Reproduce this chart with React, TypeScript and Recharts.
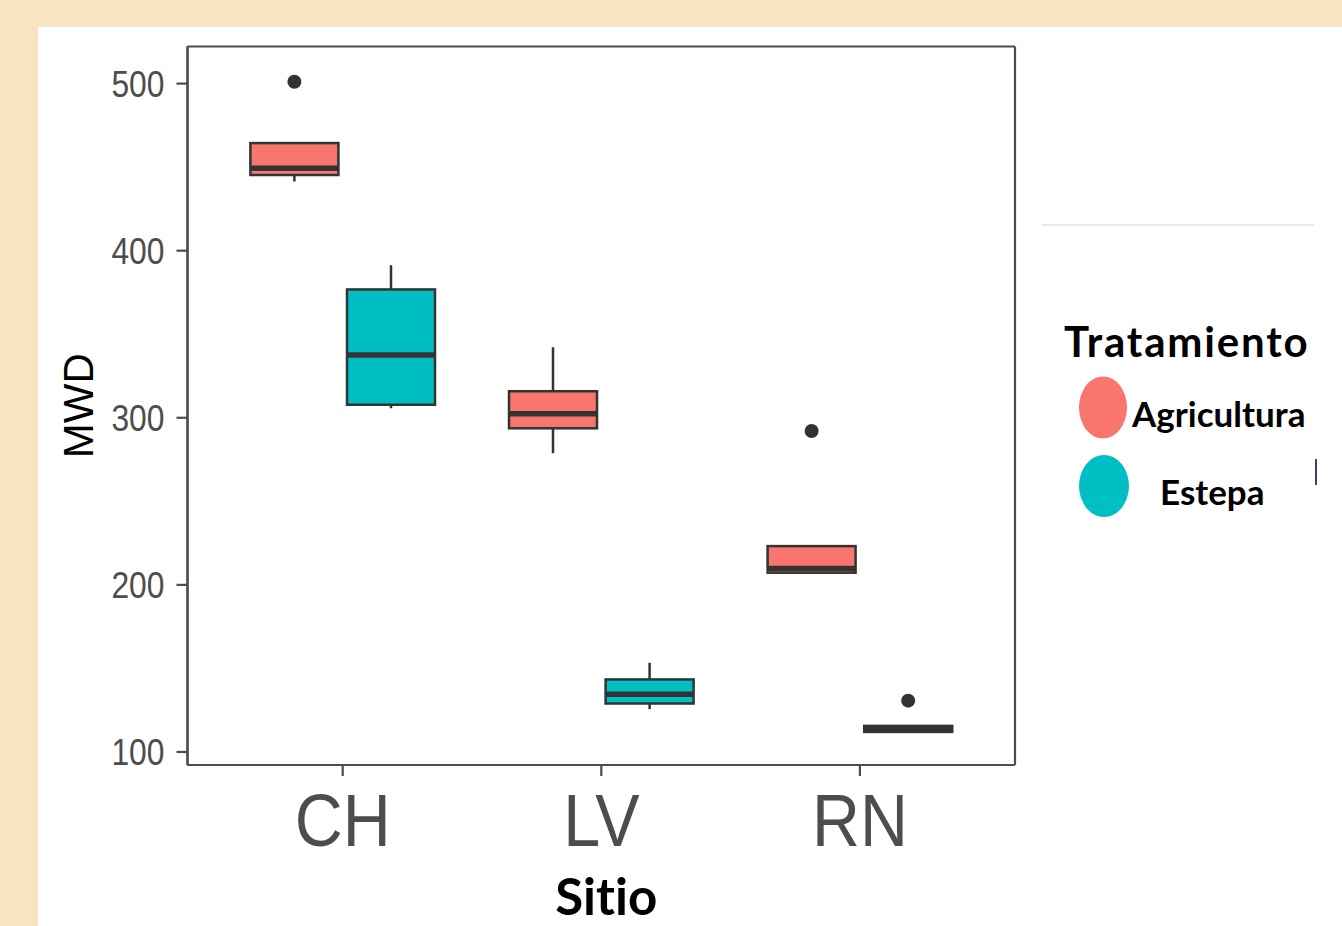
import React from 'react';
import { ComposedChart, Bar, XAxis, YAxis, Legend, Label, CartesianGrid } from 'recharts';

// ---- data ----
const sites = ['CH', 'LV', 'RN'];
const seriesNames = ['Agricultura', 'Estepa'];
const seriesColors = ['#F8766D', '#00BFC4'];

const agriLow = [441.4, 278.8, 207.3];
const agriQ1 = [445.3, 293.7, 207.3];
const agriMedian = [449.3, 302.4, 209.8];
const agriQ3 = [464.4, 315.9, 223.2];
const agriHigh = [464.4, 342.2, 223.2];
const agriOutliers = [[501.1], [], [292.1]];

const estepaLow = [305.7, 125.6, 112.0];
const estepaQ1 = [307.8, 129.0, 112.0];
const estepaMedian = [337.5, 134.6, 113.8];
const estepaQ3 = [376.8, 143.4, 115.6];
const estepaHigh = [391.3, 153.4, 115.6];
const estepaOutliers = [[], [], [130.7]];

const yTicks = [100, 200, 300, 400, 500];
const yDomain = [92.2, 522.2];

type Stats = { lo: number; q1: number; med: number; q3: number; hi: number; out: number[] };

const makeStats = (i: number, lo: number[], q1: number[], med: number[], q3: number[], hi: number[], out: number[][]): Stats => ({
  lo: lo[i], q1: q1[i], med: med[i], q3: q3[i], hi: hi[i], out: out[i],
});

const data = sites.map((site, i) => ({
  site,
  agri: makeStats(i, agriLow, agriQ1, agriMedian, agriQ3, agriHigh, agriOutliers),
  estepa: makeStats(i, estepaLow, estepaQ1, estepaMedian, estepaQ3, estepaHigh, estepaOutliers),
}));

const rangeOf = (s: Stats): [number, number] => [
  Math.min(s.lo, ...s.out),
  Math.max(s.hi, ...s.out),
];

const STROKE = '#333333';
const AXIS = '#4d4d4d';

const makeBoxShape = (key: 'agri' | 'estepa', fill: string) => (props: any) => {
  const { x, y, width, height, payload } = props;
  const s: Stats = payload[key];
  const [vmin, vmax] = rangeOf(s);
  // linear map inside the bar that the y scale produced (vmax -> y, vmin -> y+height)
  const py = (v: number) => y + ((vmax - v) / (vmax - vmin)) * height;
  const cx = x + width / 2;
  return (
    <g>
      {s.hi > s.q3 && <line x1={cx} x2={cx} y1={py(s.hi)} y2={py(s.q3)} stroke={STROKE} strokeWidth={2.5} />}
      {s.lo < s.q1 && <line x1={cx} x2={cx} y1={py(s.q1)} y2={py(s.lo)} stroke={STROKE} strokeWidth={2.5} />}
      <rect x={x} y={py(s.q3)} width={width} height={py(s.q1) - py(s.q3)} fill={fill} stroke={STROKE} strokeWidth={2.5} />
      <line x1={x} x2={x + width} y1={py(s.med)} y2={py(s.med)} stroke={STROKE} strokeWidth={5.5} />
      {s.out.map((o, k) => (
        <circle key={k} cx={cx} cy={py(o)} r={7} fill={STROKE} />
      ))}
    </g>
  );
};

const YTick = (props: any) => {
  const { x, y, payload } = props;
  return (
    <g transform={`translate(${x},${y}) scale(0.86,1)`}>
      <text x={0} y={0} dy={13} textAnchor="end" fontSize={37} fill="#4d4d4d" fontFamily="'Liberation Sans', Arial, sans-serif">
        {payload.value}
      </text>
    </g>
  );
};

const XTick = (props: any) => {
  const { x, y, payload } = props;
  return (
    <g transform={`translate(${x},${y}) scale(0.885,1)`}>
      <text x={0} y={0} dy={68} textAnchor="middle" fontSize={75} fill="#4d4d4d" fontFamily="'Liberation Sans', Arial, sans-serif">
        {payload.value}
      </text>
    </g>
  );
};

const LegendContent = (props: any) => {
  const payload = props.payload || [];
  const items = seriesNames.map((n, i) => {
    const p = payload.find((e: any) => e.value === n);
    return { name: n, color: (p && p.color) || seriesColors[i] };
  });
  return (
    <svg width={300} height={240} style={{ display: 'block' }}>
      <text x={24} y={47} fontSize={42} fontWeight={700} fill="#000" fontFamily="Lato, sans-serif" letterSpacing={1.8}>
        Tratamiento
      </text>
      <ellipse cx={63} cy={97.5} rx={24} ry={31} fill={items[0].color} />
      <text x={92} y={117} fontSize={35} fontWeight={700} fill="#000" fontFamily="Lato, sans-serif">
        {items[0].name}
      </text>
      <ellipse cx={64} cy={176} rx={25} ry={31} fill={items[1].color} />
      <text x={120} y={195} fontSize={35} fontWeight={700} fill="#000" fontFamily="Lato, sans-serif">
        {items[1].name}
      </text>
      <line x1={276} x2={276} y1={149} y2={175} stroke="#3a3a9a" strokeWidth={2} />
    </svg>
  );
};

export default function App() {
  return (
    <div style={{ position: 'fixed', left: 0, top: 0, width: 1342, height: 926, background: '#f6e4c3', overflow: 'hidden' }}>
      <div style={{ position: 'absolute', left: 38, top: 27, right: 0, bottom: 0, background: '#ffffff' }} />
      <div style={{ position: 'absolute', left: 1042, top: 224, width: 272, height: 2, background: '#e9e9e9' }} />
      <div style={{ position: 'absolute', left: 0, top: 0 }}>
        <ComposedChart
          width={1342}
          height={926}
          data={data}
          margin={{ top: 46.5, right: 327, bottom: 0, left: 0 }}
          barSize={88}
          barGap={8.6}
        >
          <CartesianGrid
            stroke={AXIS}
            strokeWidth={2.2}
            fill="none"
            horizontalCoordinatesGenerator={(p: any) => {
              const o = p.offset || { top: 46.5, height: 718.5 };
              return [o.top, o.top + o.height];
            }}
            verticalCoordinatesGenerator={(p: any) => {
              const o = p.offset || { left: 187.5, width: 827.5 };
              return [o.left, o.left + o.width];
            }}
          />
          <XAxis
            dataKey="site"
            type="category"
            height={161}
            padding={{ left: 25.9, right: 25.8 }}
            axisLine={{ stroke: AXIS, strokeWidth: 2.2 }}
            tickLine={{ stroke: AXIS, strokeWidth: 2.2 }}
            tickSize={11}
            tickMargin={2}
            tick={<XTick />}
            interval={0}
          >
            <Label
              content={(p: any) => {
                const vb = p.viewBox || { x: 187.5, width: 827.5 };
                return (
                  <text
                    x={vb.x + vb.width / 2 + 5}
                    y={915}
                    textAnchor="middle"
                    fontSize={51}
                    fontWeight={700}
                    fill="#000"
                    fontFamily="Lato, sans-serif"
                    style={{ fontVariantLigatures: 'none' }}
                  >
                    Sitio
                  </text>
                );
              }}
            />
          </XAxis>
          <YAxis
            type="number"
            domain={yDomain}
            ticks={yTicks}
            allowDataOverflow
            width={187.5}
            axisLine={{ stroke: AXIS, strokeWidth: 2.2 }}
            tickLine={{ stroke: AXIS, strokeWidth: 2.2 }}
            tickSize={11}
            tickMargin={12}
            tick={<YTick />}
            interval={0}
          >
            <Label
              content={(p: any) => {
                const vb = p.viewBox || { x: 0, y: 46.5, height: 718.5 };
                const cy = vb.y + vb.height / 2;
                return (
                  <text transform={`translate(${vb.x + 93},${cy}) rotate(-90)`} textAnchor="middle" fontSize={42} fill="#000" fontFamily="'Liberation Sans', Arial, sans-serif">
                    MWD
                  </text>
                );
              }}
            />
          </YAxis>
          <Bar
            name={seriesNames[0]}
            dataKey={(d: any) => rangeOf(d.agri)}
            fill={seriesColors[0]}
            isAnimationActive={false}
            shape={makeBoxShape('agri', seriesColors[0])}
          />
          <Bar
            name={seriesNames[1]}
            dataKey={(d: any) => rangeOf(d.estepa)}
            fill={seriesColors[1]}
            isAnimationActive={false}
            shape={makeBoxShape('estepa', seriesColors[1])}
          />
          <Legend
            layout="vertical"
            align="center"
            verticalAlign="middle"
            content={<LegendContent />}
            wrapperStyle={{ left: 1040, top: 310, width: 300, height: 240 }}
          />
        </ComposedChart>
      </div>
    </div>
  );
}
